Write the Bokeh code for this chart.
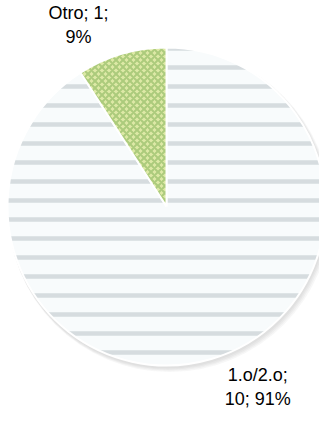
import math
from bokeh.plotting import figure
from bokeh.models import Range1d, ColumnDataSource
from bokeh.core.properties import value
from bokeh.embed import file_html
from bokeh.resources import INLINE

categories = ["1.o/2.o", "Otro"]
values = [10, 1]
label_line1 = ["1.o/2.o;", "Otro; 1;"]
label_line2 = ["10; 91%", "9%"]

W, H = 319, 412
p = figure(width=W, height=H, output_backend="svg", toolbar_location=None,
           x_range=Range1d(0, W), y_range=Range1d(0, H), min_border=0)
p.axis.visible = False
p.grid.visible = False
p.outline_line_color = None
p.background_fill_color = "white"
p.border_fill_color = "white"

cx, cy, r = 166, 206, 159
total = sum(values)
starts, ends, mids = [], [], []
cum = 0.0
for v in values:
    a0 = math.pi / 2 - 2 * math.pi * (cum + v) / total
    a1 = math.pi / 2 - 2 * math.pi * cum / total
    starts.append(a0)
    ends.append(a1)
    mids.append((a0 + a1) / 2)
    cum += v

# soft shadow
for i, a in enumerate([0.05, 0.05, 0.05, 0.05]):
    p.circle(x=cx + 1 + i * 0.7, y=cy - 2 - i * 0.7, radius=r + 1 + i * 0.5,
             fill_color="#606060", fill_alpha=a, line_color=None)

fills = ["#f8fbfc", "#dde9a6"]
hatches = ["horizontal_line", "diagonal_cross"]
hcolors = ["#d6dcdf", "#accb7c"]
hscales = [19, 7]
hweights = [4.5, 2]
for i in range(len(values)):
    p.wedge(x=cx, y=cy, radius=r, start_angle=starts[i], end_angle=ends[i],
            fill_color=fills[i], hatch_pattern=hatches[i], hatch_color=hcolors[i],
            hatch_scale=hscales[i], hatch_weight=hweights[i], hatch_alpha=1.0,
            line_color="white", line_width=2)

# labels outside (angle shift in degrees, distance factor)
shift = [10.5, 9.5]
dist = [1.27, 1.27]
lx, ly = [], []
for i, m in enumerate(mids):
    a = m + math.radians(shift[i])
    lx.append(cx + r * dist[i] * math.cos(a))
    ly.append(cy + r * dist[i] * math.sin(a))

src = ColumnDataSource(dict(x=lx, y=ly, l1=label_line1, l2=label_line2))
p.text(x="x", y="y", text="l1", source=src, text_align="center", text_baseline="middle",
       text_font=value("Liberation Sans"), text_font_size="18px", text_color="black",
       y_offset=-12)
p.text(x="x", y="y", text="l2", source=src, text_align="center", text_baseline="middle",
       text_font=value("Liberation Sans"), text_font_size="18px", text_color="black",
       y_offset=12)

open("out.html", "w").write(file_html(p, INLINE))
